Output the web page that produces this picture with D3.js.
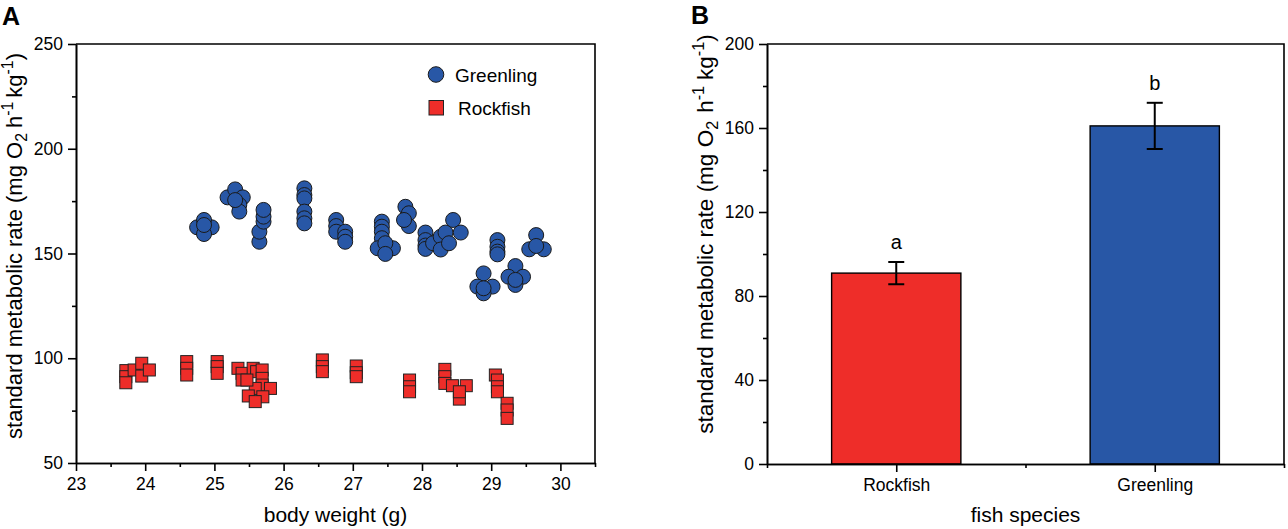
<!DOCTYPE html>
<html>
<head>
<meta charset="utf-8">
<script src="https://cdn.jsdelivr.net/npm/d3@7"></script>
<style>
  body { margin: 0; background: #fff; }
  text { font-family: "Liberation Sans", Arial, sans-serif; fill: #000; }
</style>
</head>
<body>
<svg id="chart" width="1288" height="529"></svg>
<script>
// panel A: body weight (g) vs standard metabolic rate
const greenlingWeight = [
  24.75, 24.96, 24.85, 24.85, 24.85,
  25.19, 25.30, 25.41, 25.36, 25.36, 25.30,
  25.65, 25.65, 25.71, 25.71, 25.71,
  26.30, 26.30, 26.30, 26.30, 26.30, 26.30,
  26.76, 26.76, 26.76, 26.89, 26.89, 26.89,
  27.42, 27.42, 27.42, 27.42, 27.36, 27.58, 27.47, 27.47,
  27.76, 27.81, 27.81, 27.74,
  28.05, 28.05, 28.05, 28.05, 28.16, 28.27, 28.27, 28.34, 28.39, 28.45, 28.56,
  29.09, 29.09, 29.09, 29.09,
  28.89, 28.80, 29.02, 28.89, 28.89,
  29.35, 29.25, 29.46, 29.35, 29.35,
  29.65, 29.55, 29.76, 29.65
];
const greenlingSMR = [
  162.5, 162.5, 166.0, 159.3, 163.6,
  176.8, 180.6, 176.8, 173.2, 170.0, 175.5,
  155.6, 160.4, 165.2, 167.6, 170.8,
  181.1, 177.9, 176.3, 170.0, 166.8, 164.4,
  166.0, 163.1, 160.4, 160.4, 158.0, 155.6,
  165.2, 162.8, 160.4, 157.3, 152.5, 152.5, 154.9, 149.8,
  172.3, 169.2, 163.1, 166.0,
  160.0, 156.4, 153.8, 152.2, 154.9, 158.0, 151.9, 160.0, 154.9, 166.0, 160.0,
  156.4, 153.2, 150.9, 149.6,
  140.5, 134.2, 134.2, 131.0, 133.4,
  144.0, 138.9, 138.9, 135.0, 137.4,
  158.8, 152.0, 152.0, 153.6
];
const rockfishWeight = [
  23.72, 23.72, 23.72, 23.84, 23.95, 23.95, 24.06,
  24.60, 24.60, 24.60,
  25.04, 25.04, 25.04,
  25.34, 25.40, 25.40, 25.56, 25.61, 25.69, 25.69, 25.69, 25.59, 25.81, 25.49, 25.70, 25.59, 25.47,
  26.56, 26.56, 26.56,
  27.05, 27.05, 27.05,
  27.82, 27.82, 27.82,
  28.33, 28.33, 28.33, 28.44, 28.64, 28.54, 28.54,
  29.06, 29.09, 29.09, 29.09,
  29.23, 29.23, 29.23
];
const rockfishSMR = [
  94.1, 91.2, 88.3, 94.4, 97.6, 91.5, 94.4,
  98.4, 95.2, 92.0,
  98.4, 96.0, 92.8,
  95.2, 92.8, 89.6, 95.2, 93.6, 94.4, 90.4, 87.2, 85.6, 85.6, 82.0, 81.6, 79.3, 89.6,
  99.2, 96.0, 93.6,
  96.3, 93.1, 91.2,
  89.6, 86.4, 84.0,
  94.7, 91.2, 88.0, 86.9, 86.9, 80.5, 84.0,
  92.0, 89.6, 86.4, 84.0,
  78.5, 75.3, 71.3
];
const legendNames = ["Greenling", "Rockfish"];
const weightTicks = [23, 24, 25, 26, 27, 28, 29, 30];
const weightMinor = [23.5, 24.5, 25.5, 26.5, 27.5, 28.5, 29.5, 30.5];
const smrTicksA = [50, 100, 150, 200, 250];
const smrMinorA = [75, 125, 175, 225];

// panel B: mean SMR per species
const species = ["Rockfish", "Greenling"];
const meanSMR = [90.9, 161.0];
const errSMR = [5.3, 11.0];
const groupLetters = ["a", "b"];
const smrTicksB = [0, 40, 80, 120, 160, 200];
const smrMinorB = [20, 60, 100, 140, 180];

const red = "#ee2d29", blue = "#2857a6";
const svg = d3.select("#chart");

function ytitle(g, x, y, size, gap1, gap2) {
  const small = size * 0.72;
  const t = g.append("text")
      .attr("transform", `translate(${x},${y}) rotate(-90)`)
      .attr("text-anchor", "middle")
      .attr("font-size", size);
  t.append("tspan").text("standard metabolic rate (mg O");
  t.append("tspan").attr("dy", 5).attr("font-size", small).text("2");
  t.append("tspan").attr("dy", -5).attr("dx", gap1).text("h");
  t.append("tspan").attr("dy", -9).attr("font-size", small).text("-1");
  t.append("tspan").attr("dy", 9).attr("dx", gap2).text("kg");
  t.append("tspan").attr("dy", -9).attr("font-size", small).text("-1");
  t.append("tspan").attr("dy", 9).text(")");
}

function styleAxis(g) {
  g.selectAll("path, line").attr("stroke", "#000").attr("stroke-width", 1.6);
  g.selectAll("text").attr("font-size", 17.5).attr("fill", "#000")
      .attr("font-family", '"Liberation Sans", Arial, sans-serif');
}

// ---------- panel A ----------
const xA = d3.scaleLinear([23, 30.5], [76, 595]);
const yA = d3.scaleLinear([50, 250], [463, 44]);
const gA = svg.append("g");

gA.append("g").attr("transform", "translate(0,463)")
    .call(d3.axisBottom(xA).tickValues(weightMinor).tickSize(4).tickFormat("").tickSizeOuter(0))
    .call(styleAxis);
gA.append("g").attr("transform", "translate(0,463)")
    .call(d3.axisBottom(xA).tickValues(weightTicks).tickSize(8).tickPadding(7).tickSizeOuter(0))
    .call(styleAxis);
gA.append("g").attr("transform", "translate(76,0)")
    .call(d3.axisLeft(yA).tickValues(smrMinorA).tickSize(4).tickFormat("").tickSizeOuter(0))
    .call(styleAxis);
gA.append("g").attr("transform", "translate(76,0)")
    .call(d3.axisLeft(yA).tickValues(smrTicksA).tickSize(8).tickPadding(5).tickSizeOuter(0))
    .call(styleAxis);
gA.append("path")
    .attr("d", `M${xA(23)},${yA(250)}H${xA(30.5)}V${yA(50)}`)
    .attr("fill", "none").attr("stroke", "#000").attr("stroke-width", 1.6);

gA.append("g").selectAll("circle")
  .data(d3.zip(greenlingWeight, greenlingSMR))
  .join("circle")
    .attr("cx", d => xA(d[0])).attr("cy", d => yA(d[1])).attr("r", 7.5)
    .attr("fill", blue).attr("stroke", "#1a1a1a").attr("stroke-width", 1);

const sq = 12;
gA.append("g").selectAll("rect")
  .data(d3.zip(rockfishWeight, rockfishSMR))
  .join("rect")
    .attr("x", d => xA(d[0]) - sq / 2).attr("y", d => yA(d[1]) - sq / 2)
    .attr("width", sq).attr("height", sq)
    .attr("fill", red).attr("stroke", "#222").attr("stroke-width", 1);

// legend
const leg = gA.append("g");
leg.append("circle").attr("cx", 436).attr("cy", 74.5).attr("r", 7.8)
    .attr("fill", blue).attr("stroke", "#1a1a1a");
leg.append("rect").attr("x", 429).attr("y", 100.5).attr("width", 14.5).attr("height", 14.5)
    .attr("fill", red).attr("stroke", "#222");
leg.append("text").attr("x", 455).attr("y", 81.5).attr("font-size", 19).text(legendNames[0]);
leg.append("text").attr("x", 458).attr("y", 114.5).attr("font-size", 19).text(legendNames[1]);

gA.append("text").attr("x", (76 + 595) / 2).attr("y", 522)
    .attr("text-anchor", "middle").attr("font-size", 21).text("body weight (g)");
ytitle(gA, 22, 246, 22, 5, 4);
gA.append("text").attr("x", 2).attr("y", 25).attr("font-size", 25)
    .attr("font-weight", "bold").text("A");

// ---------- panel B ----------
const xB = d3.scaleLinear([0.5, 2.5], [767, 1284]);
const yB = d3.scaleLinear([0, 200], [464, 44]);
const gB = svg.append("g");
const barW = xB(1.25) - xB(0.75);

gB.append("g").selectAll("rect")
  .data(species)
  .join("rect")
    .attr("x", (d, i) => xB(i + 1) - barW / 2)
    .attr("y", (d, i) => yB(meanSMR[i]))
    .attr("width", barW)
    .attr("height", (d, i) => yB(0) - yB(meanSMR[i]))
    .attr("fill", (d, i) => i === 0 ? red : blue)
    .attr("stroke", "#000").attr("stroke-width", 1.4);

const err = gB.append("g").attr("stroke", "#000").attr("stroke-width", 2);
species.forEach((s, i) => {
  const cx = xB(i + 1), lo = yB(meanSMR[i] - errSMR[i]), hi = yB(meanSMR[i] + errSMR[i]);
  err.append("line").attr("x1", cx).attr("x2", cx).attr("y1", lo).attr("y2", hi);
  err.append("line").attr("x1", cx - 8).attr("x2", cx + 8).attr("y1", lo).attr("y2", lo);
  err.append("line").attr("x1", cx - 8).attr("x2", cx + 8).attr("y1", hi).attr("y2", hi);
  gB.append("text").attr("x", cx).attr("y", hi - 13)
      .attr("text-anchor", "middle").attr("font-size", 20).text(groupLetters[i]);
});

gB.append("g").attr("transform", "translate(0,464)")
    .call(d3.axisBottom(xB).tickValues([0.5, 1.5, 2.5]).tickSize(4).tickFormat("").tickSizeOuter(0))
    .call(styleAxis);
gB.append("g").attr("transform", "translate(0,464)")
    .call(d3.axisBottom(xB).tickValues([1, 2]).tickSize(8).tickPadding(7)
      .tickFormat(d => species[d - 1]).tickSizeOuter(0))
    .call(styleAxis);
gB.append("g").attr("transform", "translate(767,0)")
    .call(d3.axisLeft(yB).tickValues(smrMinorB).tickSize(4).tickFormat("").tickSizeOuter(0))
    .call(styleAxis);
gB.append("g").attr("transform", "translate(767,0)")
    .call(d3.axisLeft(yB).tickValues(smrTicksB).tickSize(8).tickPadding(5).tickSizeOuter(0))
    .call(styleAxis);
gB.append("path")
    .attr("d", `M${xB(0.5)},${yB(200)}H${xB(2.5)}V${yB(0)}`)
    .attr("fill", "none").attr("stroke", "#000").attr("stroke-width", 1.6);

gB.append("text").attr("x", (767 + 1284) / 2).attr("y", 522)
    .attr("text-anchor", "middle").attr("font-size", 21).text("fish species");
ytitle(gB, 713, 234, 22.5, 8, 6);
gB.append("text").attr("x", 691).attr("y", 24).attr("font-size", 25)
    .attr("font-weight", "bold").text("B");
</script>
</body>
</html>
